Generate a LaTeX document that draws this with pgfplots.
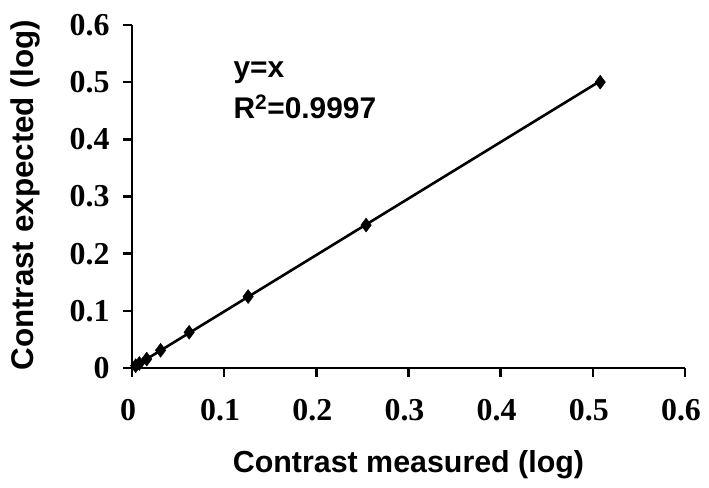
\documentclass[border=0pt]{standalone}
\usepackage{fontspec}
\setmainfont{Liberation Serif}
\newfontfamily\arial{Liberation Sans}
\usepackage{pgfplots}
\pgfplotsset{compat=1.18}
\begin{document}
\begin{tikzpicture}
\begin{axis}[
 scale only axis, width=553bp, height=343bp,
 xmin=0, xmax=0.6, ymin=0, ymax=0.6,
 axis x line*=bottom, axis y line*=left,
 axis line style={line width=2.8bp,-},
 xtick={0,0.1,0.2,0.3,0.4,0.5,0.6}, xticklabels={0,0.1,0.2,0.3,0.4,0.5,0.6},
 ytick={0,0.1,0.2,0.3,0.4,0.5,0.6}, yticklabels={0,0.1,0.2,0.3,0.4,0.5,0.6},
 tick align=outside, major tick length=9bp,
 tick style={line width=2.6bp,black},
 ticklabel style={font=\fontsize{32}{32}\selectfont\bfseries},
 xticklabel style={xshift=-4bp, yshift=-19bp},
 yticklabel style={xshift=-10bp},
 clip=false,
]
\addplot[line width=2.6bp, black] coordinates {(0,0) (0.506,0.5)};
\addplot[only marks, mark=diamond*, mark size=7bp, black] coordinates {
 (0.004,0.004) (0.008,0.008) (0.016,0.0156) (0.031,0.031) (0.062,0.0625)
 (0.126,0.125) (0.254,0.25) (0.508,0.5)};
\node[font=\arial\bfseries\fontsize{30}{30}\selectfont, anchor=base west, inner sep=0pt] at (axis cs:0.11,0.508) {y=x};
\node[font=\arial\bfseries\fontsize{30}{30}\selectfont, anchor=base west, inner sep=0pt] at (axis cs:0.11,0.436) {R\textsuperscript{2}=0.9997};
\node[font=\arial\bfseries\fontsize{30.5}{30.5}\selectfont, anchor=base, inner sep=0pt, yshift=-104bp] at (axis cs:0.3,0) {Contrast measured (log)};
\node[font=\arial\bfseries\fontsize{31.5}{31.5}\selectfont, anchor=base, inner sep=0pt, xshift=-98bp, rotate=90] at (axis cs:0,0.302) {Contrast expected (log)};
\coordinate (O) at (axis cs:0,0);
\end{axis}
\pgfresetboundingbox
\path ([shift={(-132bp,-120bp)}]O) rectangle ([shift={(577bp,368bp)}]O);
\end{tikzpicture}
\end{document}
